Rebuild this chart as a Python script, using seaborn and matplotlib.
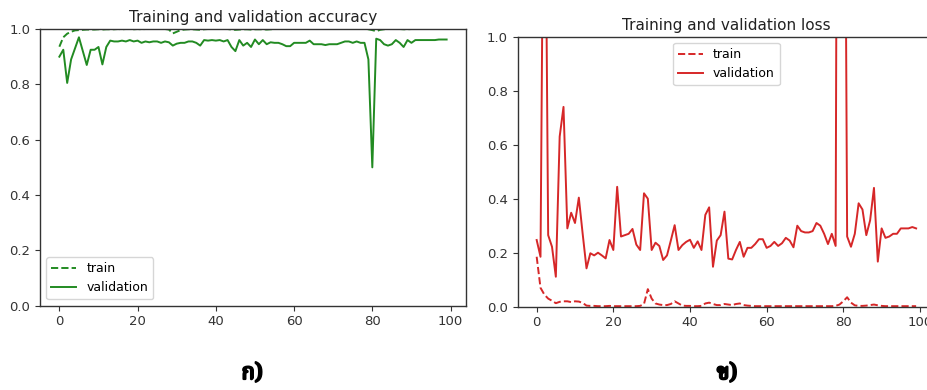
import matplotlib
matplotlib.use("Agg")
import matplotlib.pyplot as plt
import matplotlib.patheffects as pe
import seaborn as sns
import pandas as pd

epochs = list(range(100))

acc_train = [
    0.936, 0.970, 0.983, 0.990, 0.995, 0.996, 0.997, 0.998, 0.998, 0.998,
    0.999, 0.998, 0.999, 0.999, 0.999, 1.000, 0.999, 1.000, 1.000, 0.999,
    1.000, 0.999, 1.000, 1.000, 1.000, 1.000, 1.000, 1.000, 0.998, 0.984,
    0.990, 0.996, 0.998, 0.999, 0.999, 0.998, 0.997, 0.999, 1.000, 1.000,
    1.000, 1.000, 1.000, 1.000, 0.998, 0.997, 0.998, 0.999, 0.999, 0.998,
    0.999, 0.999, 0.999, 0.998, 0.999, 1.000, 1.000, 1.000, 1.000, 1.000,
    1.000, 1.000, 1.000, 1.000, 1.000, 1.000, 1.000, 1.000, 1.000, 1.000,
    1.000, 1.000, 1.000, 1.000, 1.000, 1.000, 1.000, 1.000, 1.000, 0.999,
    0.996, 0.992, 0.997, 0.999, 1.000, 1.000, 1.000, 1.000, 0.999, 0.999,
    1.000, 1.000, 1.000, 1.000, 1.000, 1.000, 1.000, 1.000, 1.000, 1.000,
]

acc_val = [
    0.900, 0.925, 0.805, 0.890, 0.930, 0.970, 0.920, 0.870, 0.925, 0.925,
    0.935, 0.872, 0.935, 0.958, 0.955, 0.955, 0.958, 0.955, 0.960, 0.955,
    0.958, 0.950, 0.955, 0.952, 0.955, 0.955, 0.950, 0.955, 0.952, 0.940,
    0.947, 0.950, 0.950, 0.955, 0.955, 0.950, 0.940, 0.960, 0.958, 0.960,
    0.958, 0.960, 0.955, 0.960, 0.935, 0.920, 0.960, 0.940, 0.950, 0.935,
    0.962, 0.945, 0.960, 0.945, 0.952, 0.950, 0.950, 0.945, 0.938, 0.938,
    0.950, 0.950, 0.950, 0.950, 0.958, 0.945, 0.945, 0.945, 0.942, 0.945,
    0.945, 0.945, 0.950, 0.955, 0.955, 0.950, 0.955, 0.950, 0.950, 0.890,
    0.500, 0.965, 0.960, 0.945, 0.940, 0.945, 0.960, 0.950, 0.935, 0.960,
    0.950, 0.960, 0.960, 0.960, 0.960, 0.960, 0.960, 0.962, 0.962, 0.962,
]

loss_train = [
    0.185, 0.070, 0.045, 0.030, 0.022, 0.013, 0.018, 0.020, 0.020, 0.017,
    0.020, 0.019, 0.014, 0.004, 0.003, 0.003, 0.002, 0.002, 0.002, 0.003,
    0.002, 0.002, 0.002, 0.002, 0.002, 0.002, 0.002, 0.003, 0.010, 0.065,
    0.030, 0.012, 0.008, 0.006, 0.006, 0.010, 0.020, 0.012, 0.004, 0.003,
    0.003, 0.002, 0.002, 0.003, 0.012, 0.015, 0.010, 0.006, 0.006, 0.010,
    0.008, 0.006, 0.010, 0.012, 0.006, 0.004, 0.003, 0.002, 0.002, 0.002,
    0.002, 0.002, 0.002, 0.002, 0.002, 0.002, 0.002, 0.002, 0.002, 0.002,
    0.002, 0.002, 0.002, 0.002, 0.002, 0.002, 0.002, 0.002, 0.003, 0.008,
    0.020, 0.035, 0.015, 0.005, 0.003, 0.003, 0.004, 0.006, 0.008, 0.005,
    0.003, 0.002, 0.002, 0.002, 0.002, 0.002, 0.002, 0.002, 0.002, 0.002,
]

loss_val = [
    0.247, 0.185, 2.100, 0.265, 0.222, 0.111, 0.630, 0.740, 0.290, 0.348,
    0.310, 0.404, 0.270, 0.142, 0.198, 0.190, 0.200, 0.190, 0.179, 0.247,
    0.210, 0.444, 0.260, 0.265, 0.270, 0.288, 0.230, 0.210, 0.420, 0.400,
    0.210, 0.237, 0.225, 0.173, 0.190, 0.245, 0.302, 0.210, 0.228, 0.240,
    0.248, 0.218, 0.242, 0.210, 0.340, 0.368, 0.148, 0.245, 0.265, 0.352,
    0.178, 0.175, 0.210, 0.240, 0.185, 0.218, 0.218, 0.232, 0.250, 0.250,
    0.218, 0.225, 0.240, 0.225, 0.235, 0.255, 0.245, 0.220, 0.300, 0.280,
    0.275, 0.275, 0.280, 0.310, 0.300, 0.270, 0.232, 0.270, 0.225, 5.000,
    3.000, 0.260, 0.222, 0.270, 0.383, 0.360, 0.265, 0.320, 0.440, 0.167,
    0.290, 0.255, 0.260, 0.270, 0.270, 0.290, 0.290, 0.290, 0.295, 0.290,
]

panel_labels = ["ก)", "ข)"]
series_names = ["train", "validation"]

acc_df = pd.DataFrame({"epoch": epochs, "train": acc_train, "validation": acc_val})
loss_df = pd.DataFrame({"epoch": epochs, "train": loss_train, "validation": loss_val})

plt.rcParams["font.family"] = ["DejaVu Sans"]
plt.rcParams["axes.linewidth"] = 1.0

fig = plt.figure(figsize=(9.27, 3.90), dpi=100)
fig.patch.set_facecolor("white")

ax1 = fig.add_axes([40 / 927, 1 - 305.7 / 390, 426 / 927, 276.7 / 390])
ax2 = fig.add_axes([517.7 / 927, 1 - 306.7 / 390, 417.4 / 927, 270 / 390])


def draw_panel(ax, df, color, title, legend_loc):
    sns.lineplot(data=df, x="epoch", y="train", ax=ax, color=color,
                 linestyle="--", linewidth=1.4, label=series_names[0])
    sns.lineplot(data=df, x="epoch", y="validation", ax=ax, color=color,
                 linestyle="-", linewidth=1.4, label=series_names[1])
    ax.set_ylim(0, 1.0)
    ax.set_xticks([0, 20, 40, 60, 80, 100])
    ax.set_yticks([0.0, 0.2, 0.4, 0.6, 0.8, 1.0])
    ax.set_xlabel("")
    ax.set_ylabel("")
    ax.set_title(title, fontsize=11, pad=5, color="#222222")
    ax.tick_params(labelsize=9.5, length=3.5, width=0.8, colors="#333333")
    for s in ax.spines.values():
        s.set_color("#333333")
    ax.legend(loc=legend_loc, fontsize=9, frameon=True, edgecolor="#cccccc",
              handlelength=2.0)


draw_panel(ax1, acc_df, "forestgreen", "Training and validation accuracy", "lower left")
draw_panel(ax2, loss_df, "#d62728", "Training and validation loss", "upper center")

# Bold serif captions under each panel; a thin stroke thickens the glyphs
thai_font = ["Noto Serif Thai", "Noto Sans Thai", "Norasi", "Garuda", "Loma",
             "Tlwg Typo", "DejaVu Serif", "DejaVu Sans"]
bold = [pe.withStroke(linewidth=1.6, foreground="black")]
for xpos, label in zip([252, 727], panel_labels):
    fig.text(xpos / 927, 1 - 373 / 390, label, ha="center", va="center",
             fontsize=16, fontweight="bold", family=thai_font,
             color="black", path_effects=bold)

fig.savefig("out.png", dpi=100, facecolor="white")
